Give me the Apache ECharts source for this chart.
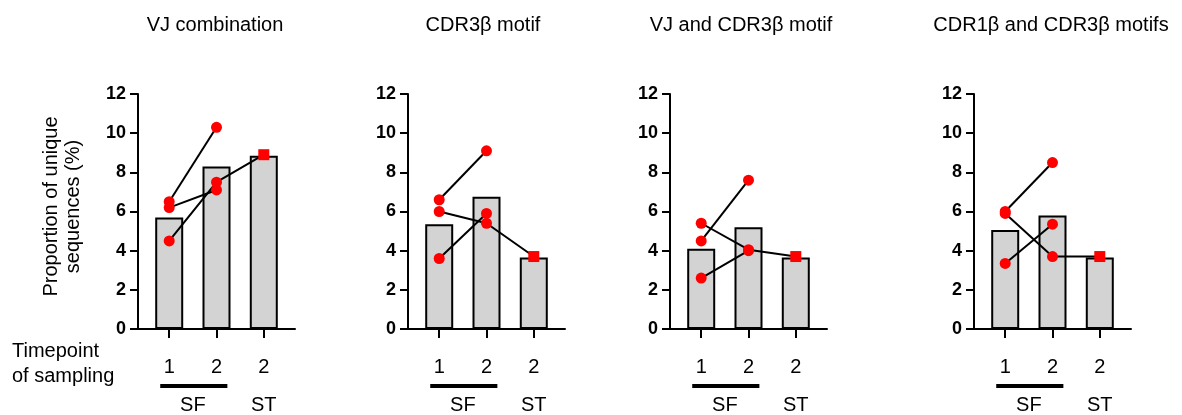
<!DOCTYPE html>
<html>
<head>
<meta charset="utf-8">
<script src="https://cdn.jsdelivr.net/npm/echarts@6/dist/echarts.min.js"></script>
<style>
  html, body { margin: 0; padding: 0; background: #fff; }
  #chart { width: 1182px; height: 415px; }
</style>
</head>
<body>
<div id="chart"></div>
<script>
// panel titles
const titles = ["VJ combination", "CDR3β motif", "VJ and CDR3β motif", "CDR1β and CDR3β motifs"];

// x positions of the three bars and their labels
const positions = [1, 2, 3];
const tickLabels = ["1", "2", "2"];
const groupPositions = [1.5, 3];
const groupLabels = ["SF", "ST"];

// bar heights (mean %) per panel: SF t1, SF t2, ST t2
const barMeans = [
  [5.7, 8.3, 8.85],
  [5.35, 6.75, 3.65],
  [4.1, 5.2, 3.65],
  [5.05, 5.8, 3.65],
];

// individual subjects, SF timepoint 1 and 2
const sfTime1 = [
  [6.5, 6.2, 4.5],
  [6.6, 6.0, 3.6],
  [4.5, 5.4, 2.6],
  [6.0, 5.9, 3.35],
];
const sfTime2 = [
  [10.3, 7.1, 7.5],
  [9.1, 5.4, 5.9],
  [7.6, 4.05, 4.0],
  [8.5, 3.7, 5.35],
];

// the single ST sample and which SF subject it links to
const stValues = [8.9, 3.7, 3.7, 3.7];
const stLinked = [2, 1, 1, 1];

const FONT = "'Liberation Sans', Arial, sans-serif";
const GRID_LEFT = [138, 408, 670, 974];
const TITLE_X = [210, 478, 736, 1046];
const X_MIN = 0.34;
const X_MAX = 3.66;

const chart = echarts.init(document.getElementById("chart"));

const grids = [];
const xAxes = [];
const yAxes = [];
const series = [];

titles.forEach((t, i) => {
  grids.push({ left: GRID_LEFT[i], top: 94, width: 157, bottom: 86 });

  xAxes.push({
    type: "value",
    gridIndex: i,
    min: X_MIN,
    max: X_MAX,
    splitLine: { show: false },
    axisLine: { lineStyle: { color: "#000", width: 2 } },
    axisTick: { customValues: positions, length: 9, lineStyle: { color: "#000", width: 2 } },
    axisLabel: {
      customValues: positions,
      formatter: (v) => tickLabels[Math.round(v) - 1],
      fontSize: 20,
      fontFamily: FONT,
      color: "#000",
      margin: 28,
    },
  });
  // group labels SF / ST
  xAxes.push({
    type: "value",
    gridIndex: i,
    min: X_MIN,
    max: X_MAX,
    position: "bottom",
    offset: 58,
    splitLine: { show: false },
    axisLine: { show: false },
    axisTick: { show: false },
    axisLabel: {
      customValues: groupPositions,
      formatter: (v) => groupLabels[groupPositions.indexOf(v)],
      fontSize: 20,
      fontFamily: FONT,
      color: "#000",
      margin: 8,
    },
  });

  yAxes.push({
    type: "value",
    gridIndex: i,
    min: 0,
    max: 12,
    interval: 2,
    splitLine: { show: false },
    axisLine: { show: true, lineStyle: { color: "#000", width: 2 } },
    axisTick: { show: true, length: 8, lineStyle: { color: "#000", width: 2 } },
    axisLabel: { fontSize: 18, fontWeight: "bold", fontFamily: FONT, color: "#000", margin: 12 },
    name: i === 0 ? "Proportion of unique\nsequences (%)" : "",
    nameLocation: "middle",
    nameGap: 54,
    nameTextStyle: { fontSize: 20, fontFamily: FONT, color: "#000", lineHeight: 22, padding: [0, 0, 0, 10] },
  });

  const xi = i * 2;

  series.push({
    type: "bar",
    xAxisIndex: xi,
    yAxisIndex: i,
    barWidth: 28,
    data: positions.map((p, k) => [p, barMeans[i][k]]),
    itemStyle: { color: "#d3d3d3", borderColor: "#000", borderWidth: 2 },
    z: 1,
  });

  // subject lines
  sfTime1[i].forEach((v1, j) => {
    const pts = [[1, v1], [2, sfTime2[i][j]]];
    if (j === stLinked[i]) pts.push([3, stValues[i]]);
    series.push({
      type: "line",
      xAxisIndex: xi,
      yAxisIndex: i,
      data: pts,
      symbol: "none",
      lineStyle: { color: "#000", width: 2 },
      z: 3,
    });
  });

  // SF dots
  series.push({
    type: "scatter",
    xAxisIndex: xi,
    yAxisIndex: i,
    symbol: "circle",
    symbolSize: 11,
    data: sfTime1[i].map((v) => [1, v]).concat(sfTime2[i].map((v) => [2, v])),
    itemStyle: { color: "#ff0000", opacity: 1 },
    z: 4,
  });
  // ST square
  series.push({
    type: "scatter",
    xAxisIndex: xi,
    yAxisIndex: i,
    symbol: "rect",
    symbolSize: 11,
    data: [[3, stValues[i]]],
    itemStyle: { color: "#ff0000", opacity: 1 },
    z: 4,
  });
});

chart.setOption({
  animation: false,
  backgroundColor: "#fff",
  textStyle: { fontFamily: FONT },
  title: titles.map((t, i) => ({
    text: t,
    left: TITLE_X[i],
    top: 10,
    textAlign: "center",
    textStyle: { fontSize: 20, fontWeight: "normal", color: "#000", fontFamily: FONT },
  })),
  grid: grids,
  xAxis: xAxes,
  yAxis: yAxes,
  series: series,
});

// SF underline, placed from the axis scale
const graphics = [
  {
    type: "text",
    left: 12,
    top: 339,
    style: { text: "Timepoint\nof sampling", font: "20px " + FONT, lineHeight: 25, fill: "#000" },
  },
];
titles.forEach((t, i) => {
  const a = chart.convertToPixel({ xAxisIndex: i * 2, yAxisIndex: i }, [0.81, 0]);
  const b = chart.convertToPixel({ xAxisIndex: i * 2, yAxisIndex: i }, [2.23, 0]);
  graphics.push({
    type: "line",
    shape: { x1: a[0], y1: a[1] + 57, x2: b[0], y2: b[1] + 57 },
    style: { stroke: "#000", lineWidth: 4 },
  });
});
chart.setOption({ graphic: graphics });
</script>
</body>
</html>
